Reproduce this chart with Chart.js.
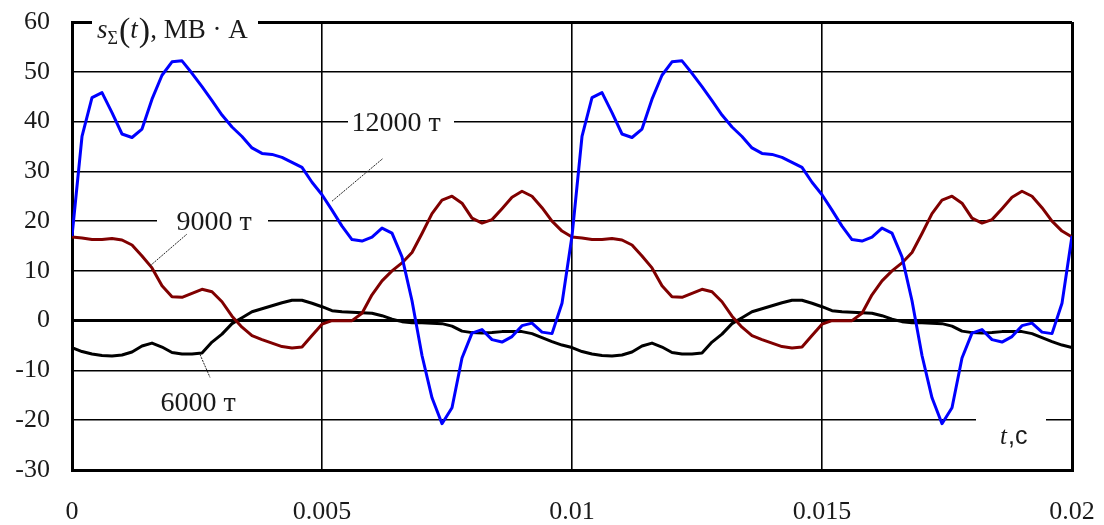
<!DOCTYPE html>
<html>
<head>
<meta charset="utf-8">
<script src="https://cdn.jsdelivr.net/npm/chart.js@4/dist/chart.umd.min.js"></script>
<style>
  html, body { margin: 0; padding: 0; background: #fff; }
</style>
</head>
<body>
<canvas id="power-chart" width="1104" height="525"></canvas>
<script>
// time, ms (sampling step 0.2 ms)
var timeMs = [
  0, 0.2, 0.4, 0.6, 0.8, 1, 1.2, 1.4, 1.6, 1.8,
  2, 2.2, 2.4, 2.6, 2.8, 3, 3.2, 3.4, 3.6, 3.8,
  4, 4.2, 4.4, 4.6, 4.8, 5, 5.2, 5.4, 5.6, 5.8,
  6, 6.2, 6.4, 6.6, 6.8, 7, 7.2, 7.4, 7.6, 7.8,
  8, 8.2, 8.4, 8.6, 8.8, 9, 9.2, 9.4, 9.6, 9.8,
  10, 10.2, 10.4, 10.6, 10.8, 11, 11.2, 11.4, 11.6, 11.8,
  12, 12.2, 12.4, 12.6, 12.8, 13, 13.2, 13.4, 13.6, 13.8,
  14, 14.2, 14.4, 14.6, 14.8, 15, 15.2, 15.4, 15.6, 15.8,
  16, 16.2, 16.4, 16.6, 16.8, 17, 17.2, 17.4, 17.6, 17.8,
  18, 18.2, 18.4, 18.6, 18.8, 19, 19.2, 19.4, 19.6, 19.8,
  20
];

// s(t), MVA - 12000 t
var s12000 = [
  17, 37, 44.8, 45.8, 41.8, 37.5, 36.8, 38.5, 44.5, 49.3,
  52, 52.2, 49.7, 47, 44.2, 41.3, 38.9, 37, 34.7, 33.6,
  33.4, 32.8, 31.8, 30.8, 27.8, 25.3, 22.2, 19, 16.3, 16,
  16.8, 18.6, 17.6, 12.8, 4, -7, -15.5, -20.7, -17.5, -7.5,
  -2.5, -1.8, -3.8, -4.3, -3.2, -1, -0.5, -2.3, -2.6, 3.5,
  17, 37, 44.8, 45.8, 41.8, 37.5, 36.8, 38.5, 44.5, 49.3,
  52, 52.2, 49.7, 47, 44.2, 41.3, 38.9, 37, 34.7, 33.6,
  33.4, 32.8, 31.8, 30.8, 27.8, 25.3, 22.2, 19, 16.3, 16,
  16.8, 18.6, 17.6, 12.8, 4, -7, -15.5, -20.7, -17.5, -7.5,
  -2.5, -1.8, -3.8, -4.3, -3.2, -1, -0.5, -2.3, -2.6, 3.5,
  17
];

// 9000 t
var s9000 = [
  16.8, 16.6, 16.3, 16.3, 16.5, 16.2, 15.2, 13, 10.6, 7,
  4.8, 4.7, 5.5, 6.3, 5.8, 3.8, 0.9, -1.3, -3, -3.8,
  -4.5, -5.2, -5.5, -5.3, -3, -0.7, 0, 0, 0, 1.5,
  5.2, 8, 10, 11.6, 13.7, 17.5, 21.5, 24.2, 25, 23.6,
  20.6, 19.6, 20.3, 22.5, 24.8, 26, 25, 22.7, 20, 18,
  16.8, 16.6, 16.3, 16.3, 16.5, 16.2, 15.2, 13, 10.6, 7,
  4.8, 4.7, 5.5, 6.3, 5.8, 3.8, 0.9, -1.3, -3, -3.8,
  -4.5, -5.2, -5.5, -5.3, -3, -0.7, 0, 0, 0, 1.5,
  5.2, 8, 10, 11.6, 13.7, 17.5, 21.5, 24.2, 25, 23.6,
  20.6, 19.6, 20.3, 22.5, 24.8, 26, 25, 22.7, 20, 18,
  16.8
];

// 6000 t
var s6000 = [
  -5.4, -6.2, -6.7, -7, -7.1, -6.9, -6.3, -5.1, -4.5, -5.3,
  -6.4, -6.7, -6.7, -6.5, -4.3, -2.7, -0.6, 0.6, 1.8, 2.4,
  3, 3.6, 4.1, 4.1, 3.5, 2.8, 2, 1.8, 1.7, 1.6,
  1.5, 1, 0.3, -0.2, -0.4, -0.4, -0.5, -0.6, -1.1, -2.1,
  -2.4, -2.5, -2.4, -2.2, -2.2, -2.2, -2.6, -3.4, -4.2, -4.9,
  -5.4, -6.2, -6.7, -7, -7.1, -6.9, -6.3, -5.1, -4.5, -5.3,
  -6.4, -6.7, -6.7, -6.5, -4.3, -2.7, -0.6, 0.6, 1.8, 2.4,
  3, 3.6, 4.1, 4.1, 3.5, 2.8, 2, 1.8, 1.7, 1.6,
  1.5, 1, 0.3, -0.2, -0.4, -0.4, -0.5, -0.6, -1.1, -2.1,
  -2.4, -2.5, -2.4, -2.2, -2.2, -2.2, -2.6, -3.4, -4.2, -4.9,
  -5.4
];

var xTicks = [0, 0.005, 0.01, 0.015, 0.02];
var yTicks = [-30, -20, -10, 0, 10, 20, 30, 40, 50, 60];

var serif = "'Liberation Serif', 'Times New Roman', serif";
var textColor = "#1a1a1a";

function points(values) {
  return timeMs.map(function (t, i) { return { x: t / 1000, y: values[i] }; });
}

// curve labels: centre (ms, value), optional gap cut in the grid line at that value
var curveLabels = [
  { text: "12000 т", t: 6.48, v: 40, gap: [5.52, 7.64] },
  { text: "9000 т", t: 2.84, v: 20, gap: [1.7, 3.92] },
  { text: "6000 т", t: 2.52, v: -16.2, gap: null }
];
var leaders = [
  [5.2, 24, 6.22, 32.6],
  [1.56, 11, 2.3, 17.4],
  [2.56, -6.8, 2.76, -11.4]
];

var annotations = {
  id: "annotations",
  afterDraw: function (chart) {
    var ctx = chart.ctx;
    var xs = chart.scales.x, ys = chart.scales.y;
    function px(ms) { return xs.getPixelForValue(ms / 1000); }
    function py(v) { return ys.getPixelForValue(v); }
    ctx.save();

    ctx.strokeStyle = "#222";
    ctx.lineWidth = 1;
    ctx.setLineDash([2, 1]);
    leaders.forEach(function (l) {
      ctx.beginPath();
      ctx.moveTo(px(l[0]), py(l[1]));
      ctx.lineTo(px(l[2]), py(l[3]));
      ctx.stroke();
    });
    ctx.setLineDash([]);

    ctx.font = "28px " + serif;
    ctx.textAlign = "center";
    ctx.textBaseline = "middle";
    curveLabels.forEach(function (l) {
      if (l.gap) {
        ctx.fillStyle = "#fff";
        ctx.fillRect(px(l.gap[0]), py(l.v) - 4, px(l.gap[1]) - px(l.gap[0]), 8);
      }
      ctx.fillStyle = textColor;
      ctx.fillText(l.text, px(l.t), py(l.v) + 2);
    });

    // x axis label
    ctx.fillStyle = "#fff";
    ctx.fillRect(px(18.08), py(-20) - 4, px(19.48) - px(18.08), 8);
    ctx.fillStyle = textColor;
    ctx.textAlign = "left";
    ctx.textBaseline = "alphabetic";
    var bx = px(18.56), by = py(-20) + 24;
    ctx.font = "italic 25px " + serif;
    ctx.fillText("t", bx, by);
    bx += ctx.measureText("t").width + 1;
    ctx.font = "25px 'Liberation Sans', Arial, sans-serif";
    ctx.fillText(",с", bx, by);

    // y axis title, cut into the top border
    ctx.fillStyle = "#fff";
    ctx.fillRect(px(0.4), py(60) - 4, px(3.72) - px(0.4), 8);
    ctx.fillStyle = textColor;
    var tx = px(0.5), ty = py(60) + 16;
    ctx.font = "italic 27px " + serif;
    ctx.fillText("s", tx, ty);
    tx += ctx.measureText("s").width;
    ctx.font = "18px " + serif;
    ctx.fillText("Σ", tx, ty + 6);
    tx += ctx.measureText("Σ").width + 1;
    ctx.font = "34px " + serif;
    ctx.fillText("(", tx, ty + 3);
    tx += ctx.measureText("(").width;
    ctx.font = "italic 27px " + serif;
    ctx.fillText("t", tx, ty);
    tx += ctx.measureText("t").width + 1;
    ctx.font = "34px " + serif;
    ctx.fillText(")", tx, ty + 3);
    tx += ctx.measureText(")").width;
    ctx.font = "27px " + serif;
    ctx.fillText(", МВ · А", tx, ty);

    ctx.restore();
  }
};

function edgeWidth(values) {
  return function (c) {
    var v = c.tick ? c.tick.value : null;
    for (var i = 0; i < values.length; i++) {
      if (v !== null && Math.abs(v - values[i]) < 1e-9) return 3;
    }
    return 1.6;
  };
}

// fixed axis size, no extra room for overhanging edge labels
function fixSize(w, h) {
  return function (s) {
    if (w) s.width = w;
    if (h) s.height = h;
    s.paddingTop = 0; s.paddingBottom = 0; s.paddingLeft = 0; s.paddingRight = 0;
  };
}

new Chart(document.getElementById("power-chart"), {
  type: "line",
  data: {
    datasets: [
      { label: "12000 т", data: points(s12000), borderColor: "#0000ff", order: 1 },
      { label: "9000 т", data: points(s9000), borderColor: "#800000", order: 2 },
      { label: "6000 т", data: points(s6000), borderColor: "#000000", order: 3 }
    ]
  },
  options: {
    responsive: false,
    animation: false,
    events: [],
    layout: { padding: { top: 22, right: 32, left: 0, bottom: 0 } },
    elements: {
      line: { borderWidth: 3, tension: 0, borderJoinStyle: "round", fill: false },
      point: { radius: 0 }
    },
    plugins: {
      legend: { display: false },
      tooltip: { enabled: false },
      title: { display: false }
    },
    scales: {
      x: {
        type: "linear",
        min: 0,
        max: 0.02,
        afterFit: fixSize(0, 55),
        afterBuildTicks: function (s) { s.ticks = xTicks.map(function (v) { return { value: v }; }); },
        grid: { color: "#000", lineWidth: edgeWidth([0, 0.02]), drawTicks: false },
        border: { display: true, color: "#000", width: 3 },
        ticks: {
          padding: 27,
          color: textColor,
          font: { family: serif, size: 26 },
          maxRotation: 0,
          callback: function (v) { return String(Number(v.toFixed(3))); }
        }
      },
      y: {
        min: -30,
        max: 60,
        afterFit: fixSize(72, 0),
        afterBuildTicks: function (s) { s.ticks = yTicks.map(function (v) { return { value: v }; }); },
        grid: { color: "#000", lineWidth: edgeWidth([0, 60, -30]), drawTicks: false },
        border: { display: true, color: "#000", width: 3 },
        ticks: {
          padding: 22,
          color: textColor,
          font: { family: serif, size: 26 }
        }
      }
    }
  },
  plugins: [annotations]
});
</script>
</body>
</html>
